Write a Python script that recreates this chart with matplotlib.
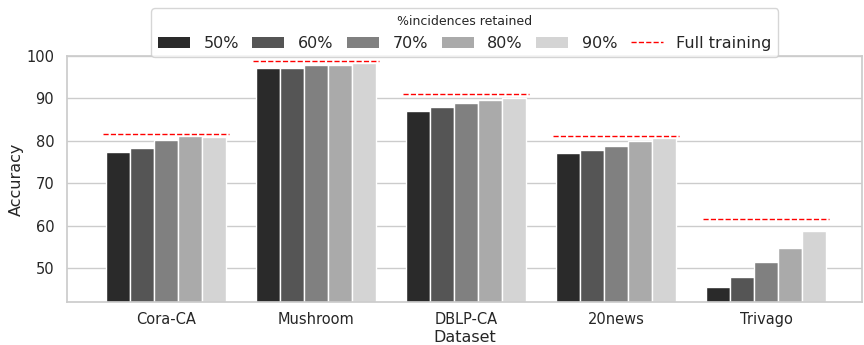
import numpy as np
import matplotlib
matplotlib.use("Agg")
import matplotlib.pyplot as plt
import seaborn as sns
from matplotlib.lines import Line2D
from matplotlib.patches import Patch

datasets = ["Cora-CA", "Mushroom", "DBLP-CA", "20news", "Trivago"]
retained = ["50%", "60%", "70%", "80%", "90%"]

# accuracy per dataset for each share of incidences kept
acc_50 = [77.4, 97.1, 86.9, 77.1, 45.5]
acc_60 = [78.2, 97.1, 87.9, 77.7, 47.9]
acc_70 = [80.2, 97.8, 88.8, 78.8, 51.3]
acc_80 = [81.0, 97.9, 89.5, 80.0, 54.7]
acc_90 = [80.9, 98.4, 90.1, 80.7, 58.6]
full_training = [81.5, 98.8, 90.9, 81.1, 61.5]

colors = ["#2a2a2a", "#555555", "#808080", "#aaaaaa", "#d4d4d4"]

sns.set_theme(style="whitegrid")

fig, ax = plt.subplots(figsize=(8.64, 3.45), dpi=100)
fig.subplots_adjust(left=0.078, right=0.998, top=0.838, bottom=0.125)

series = [acc_50, acc_60, acc_70, acc_80, acc_90]
x = np.arange(len(datasets))
width = 0.8 / len(series)
for i, vals in enumerate(series):
    ax.bar(x - 0.4 + width * (i + 0.5), vals, width, color=colors[i],
           edgecolor="white", linewidth=1, zorder=2)

for xi, v in zip(x, full_training):
    ax.hlines(v, xi - 0.42, xi + 0.42, colors="red", linestyles="--",
              linewidth=1.0, zorder=3)

ax.set_xlim(-0.66, 4.64)
ax.set_ylim(42, 100)
ax.set_xticks(x)
ax.set_xticklabels(datasets, fontsize=10.5)
ax.tick_params(axis="x", pad=1.5)
ax.tick_params(axis="y", labelsize=10.5)
ax.set_xlabel("Dataset", fontsize=11.5, labelpad=2)
ax.set_ylabel("Accuracy", fontsize=11.5, labelpad=2)
ax.grid(axis="x", visible=False)

handles = [Patch(facecolor=c, edgecolor="none") for c in colors]
handles.append(Line2D([0], [0], color="red", linestyle="--", linewidth=1.0))
labels = retained + ["Full training"]
leg = ax.legend(handles, labels, title="%incidences retained", ncol=6,
                loc="lower center", bbox_to_anchor=(0.5, 0.995),
                fontsize=11.5, title_fontsize=9, frameon=True,
                handlelength=2.0, handletextpad=0.85, columnspacing=0.85,
                borderaxespad=0)

fig.savefig("out.png")
